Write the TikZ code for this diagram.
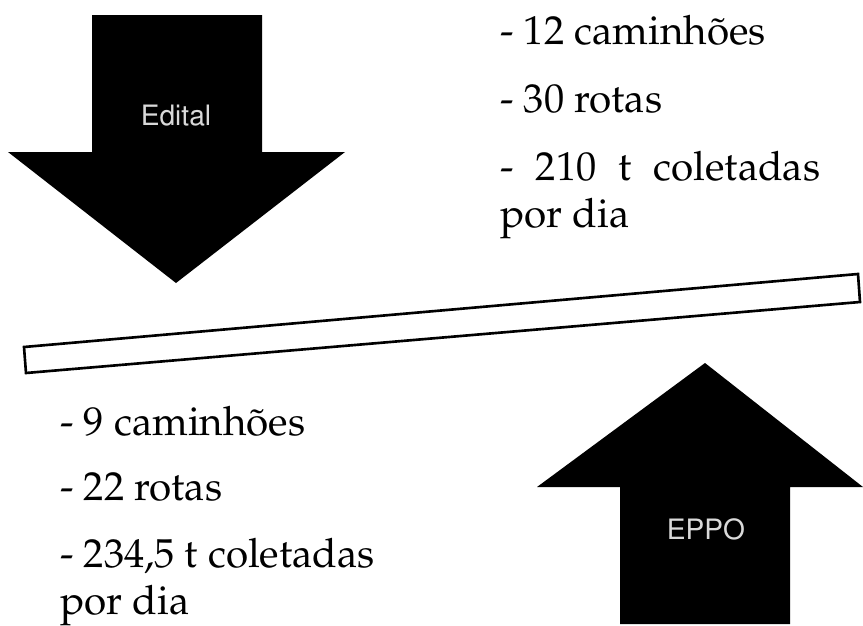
\documentclass[tikz,border=0pt]{standalone}
\usepackage[T1]{fontenc}
\usepackage{mathpazo}
\usepackage{tikz}

\begin{document}
\begin{tikzpicture}[
  x=0.02cm, y=-0.02cm,
  bigarrow/.style={fill=black},
  tag/.style={font=\fontfamily{phv}\fontsize{16}{18}\selectfont, text=white!85!black},
  item/.style={anchor=base west, inner sep=0pt, font=\fontsize{23}{27}\selectfont, text width=6.4cm, align=justify},
  itemleft/.style={item, text width=7cm, align=flush left},
]
\useasboundingbox (0,0) rectangle (863,626);

% arrows and beam
\fill[bigarrow] (92,15) -- (262,15) -- (262,152) -- (345,152) -- (176,283) -- (8,152) -- (92,152) -- cycle;
\node[tag] (edital) at (176,116) {Edital};
\fill[bigarrow] (620,624) -- (790,624) -- (790,487) -- (863,487) -- (705,363) -- (537,487) -- (620,487) -- cycle;
\node[tag] (eppo) at (706,529) {EPPO};
\draw[line width=1.5pt] (24,347) -- (858,274) -- (860,302) -- (26,373) -- cycle;

% texts
\node[item] (trucks12) at (500,44) {- 12 caminhões};
\node[item] (routes30) at (500,112) {- 30 rotas};
\node[item] (load210) at (500,180) {- 210 t coletadas por dia};
\node[itemleft] (trucks9) at (60,435) {- 9 caminhões};
\node[itemleft] (routes22) at (60,500) {- 22 rotas};
\node[itemleft] (load234) at (60,567) {- 234,5 t coletadas por dia};
\end{tikzpicture}
\end{document}
